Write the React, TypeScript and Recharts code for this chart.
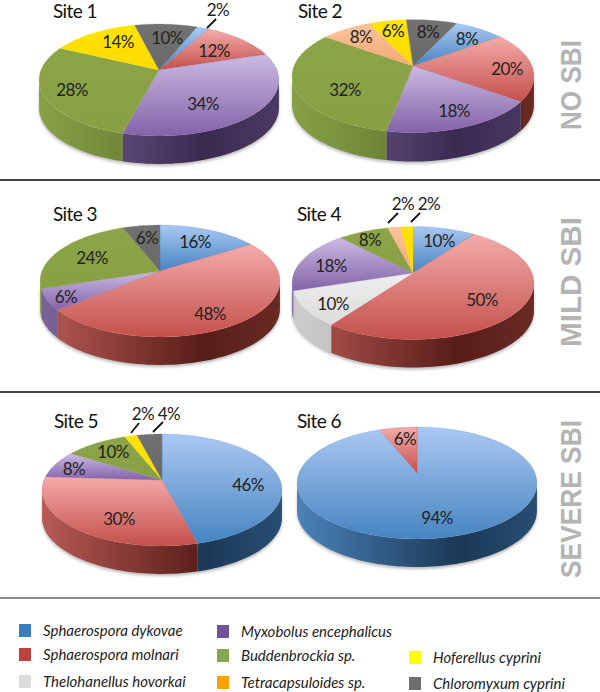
import React from "react";
import { PieChart, Pie, Legend, Customized } from "recharts";

const speciesNames = ["Sphaerospora dykovae","Sphaerospora molnari","Thelohanellus hovorkai","Myxobolus encephalicus","Buddenbrockia sp.","Tetracapsuloides sp.","Hoferellus cyprini","Chloromyxum cyprini"];
// colour key per species: top-face gradient, wall gradient, legend swatch
const topFrom = ["#abc8f2","#f3abaa","#eeeeee","#cbbae2","#8da548","#f9c39c","#ffe400","#727272"];
const topTo   = ["#4684c1","#c4504b","#dcdcdc","#8263a8","#88a044","#f6a974","#fedb00","#686868"];
const wallFrom= ["#4a82b8","#b85a55","#cecece","#7c6499","#88a146","#d08a50","#d0b400","#5a5a5a"];
const wallDark= ["#1b3857","#581d18","#a4a4a4","#3a2a50","#56702c","#a86a30","#a89000","#444444"];
const wallEnd = ["#284e74","#6a2a24","#aaaaaa","#4b3a63","#5f7830","#a86a30","#a89000","#4a4a4a"];
const swatch  = ["#3b7dbd","#bb413d","#dcdcdc","#6f5397","#85a64e","#ffa000","#ffff00","#6e6e6e"];

const site1Species = [0,1,3,4,6,7];
const site1Values  = [2,12,34,28,14,10];
const site2Species = [0,1,3,4,5,6,7];
const site2Values  = [8,20,18,32,8,6,8];
const site3Species = [0,1,3,4,7];
const site3Values  = [16,48,6,24,6];
const site4Species = [0,1,2,3,4,5,6];
const site4Values  = [10,50,10,18,8,2,2];
const site5Species = [0,1,3,4,6,7];
const site5Values  = [46,30,8,10,2,4];
const site6Species = [0,1];
const site6Values  = [94,6];

const K = 0.1786, FLAT = 0.459;

const project = (deg: number, cx: number, cy: number, A: number) => {
  const t = (deg * Math.PI) / 180;
  const u = Math.sin(t), v = -Math.cos(t), d = 1 - K * v;
  return [cx + (A * u) / d, cy + (A * FLAT * v) / d];
};

const arcPts = (a: number, b: number, cx: number, cy: number, A: number) => {
  const n = Math.max(2, Math.ceil(Math.abs(b - a) / 2));
  const out: number[][] = [];
  for (let i = 0; i <= n; i++) out.push(project(a + ((b - a) * i) / n, cx, cy, A));
  return out;
};
const fmt = (p: number[]) => p[0].toFixed(2) + " " + p[1].toFixed(2);

const makeShape = (siteId: number, depth: number, species: number[]) => (props: any) => {
  const { cx, cy, outerRadius, startAngle, endAngle, index } = props;
  const sp = species[index ?? 0];
  const t0 = 90 - startAngle, t1 = 90 - endAngle;
  const top = arcPts(t0, t1, cx, cy, outerRadius);
  const topD = "M" + cx + " " + cy + " L" + top.map(fmt).join(" L") + " Z";
  const walls: string[] = [];
  for (const off of [-360, 0, 360]) {
    const a = Math.max(t0, 100.3 + off), b = Math.min(t1, 259.7 + off);
    if (b > a) {
      const arc = arcPts(a, b, cx, cy, outerRadius);
      const low = arc.slice().reverse().map((p) => [p[0], p[1] + depth]);
      walls.push("M" + arc.map(fmt).join(" L") + " L" + low.map(fmt).join(" L") + " Z");
    }
  }
  const id = "s" + siteId + "i" + (index ?? 0);
  const halfW = outerRadius * 1.016;
  return (
    <g>
      <defs>
        <linearGradient id={id + "t"} x1="0" y1="0" x2="0" y2="1">
          <stop offset="0" stopColor={topFrom[sp]} />
          <stop offset="1" stopColor={topTo[sp]} />
        </linearGradient>
        <linearGradient id={id + "w"} gradientUnits="userSpaceOnUse" x1={cx - halfW} y1={0} x2={cx + halfW} y2={0}>
          <stop offset="0" stopColor={wallFrom[sp]} />
          <stop offset="0.68" stopColor={wallDark[sp]} />
          <stop offset="1" stopColor={wallEnd[sp]} />
        </linearGradient>
      </defs>
      {walls.map((d, i) => (
        <path key={i} d={d} fill={`url(#${id}w)`} style={{ filter: "drop-shadow(0 2px 1.5px rgba(0,0,0,0.28))" }} />
      ))}
      <path d={topD} fill={`url(#${id}t)`} stroke={topTo[sp]} strokeWidth={0.25} />
    </g>
  );
};

const FONT = "Lato, Carlito, sans-serif";

type Lbl = [number, number];
const makeLabel = (values: number[], at: Lbl[], leaders: Record<number, number[]>) => (props: any) => {
  const i = props.index;
  const l = leaders[i];
  return (
    <g key={i}>
      {l && <line x1={l[0]} y1={l[1]} x2={l[2]} y2={l[3]} stroke="#111" strokeWidth={1.8} />}
      <text x={at[i][0]} y={at[i][1]} textAnchor="middle" dominantBaseline="central" fontFamily={FONT} fontSize={17} letterSpacing={-0.6} fill="#222">
        {values[i]}%
      </text>
    </g>
  );
};

const sites = [
  { id: 1, title: "Site 1", tx: 53, ty: 10, cx: 159, cy: 70, A: 118, depth: 28, start: 22, species: site1Species, values: site1Values,
    at: [[218,9],[214,50],[203,103],[72,89],[118,41],[167,37]] as Lbl[], leaders: { 0: [207,28,216,19] } },
  { id: 2, title: "Site 2", tx: 298, ty: 10, cx: 413, cy: 66, A: 119, depth: 29, start: 25, species: site2Species, values: site2Values,
    at: [[467,38],[507,68],[454,110],[345,89],[361,36],[393,30],[428,31]] as Lbl[], leaders: {} },
  { id: 3, title: "Site 3", tx: 53, ty: 213, cx: 160, cy: 271, A: 118, depth: 28, start: 0, species: site3Species, values: site3Values,
    at: [[195,241],[210,313],[66,296],[92,257],[147,237]] as Lbl[], leaders: {} },
  { id: 4, title: "Site 4", tx: 297, ty: 213, cx: 413, cy: 273, A: 119, depth: 28, start: 0, species: site4Species, values: site4Values,
    at: [[439,240],[482,299],[333,303],[331,265],[370,239],[403,203],[429,203]] as Lbl[], leaders: { 5: [388,223,398,213], 6: [411,222,420,213] } },
  { id: 5, title: "Site 5", tx: 54, ty: 420, cx: 162, cy: 480, A: 118, depth: 28, start: 0, species: site5Species, values: site5Values,
    at: [[248,484],[119,518],[74,468],[113,451],[143,413],[169,413]] as Lbl[], leaders: { 4: [131,433,139,423], 5: [153,432,163,422] } },
  { id: 6, title: "Site 6", tx: 297, ty: 420, cx: 417, cy: 473, A: 118, depth: 28, start: 0, species: site6Species, values: site6Values,
    at: [[437,517],[405,438]] as Lbl[], leaders: {} },
];

const separators = [
  { y: 180, color: "#444444" },
  { y: 392, color: "#444444" },
  { y: 598, color: "#8a8a8a" },
];
const sideLabels = [
  { text: "NO SBI", x: 571, y: 85, len: 90 },
  { text: "MILD SBI", x: 571, y: 282, len: 130 },
  { text: "SEVERE SBI", x: 571, y: 499, len: 158 },
];
const legendSlots = [
  { sp: 0, x: 19, y: 630 }, { sp: 1, x: 19, y: 654 }, { sp: 2, x: 19, y: 681 },
  { sp: 3, x: 217, y: 631 }, { sp: 4, x: 217, y: 655 }, { sp: 5, x: 217, y: 682 },
  { sp: 6, x: 409, y: 657 }, { sp: 7, x: 409, y: 683 },
];

const Overlay = () => (
  <g>
    {separators.map((s) => (
      <line key={s.y} x1={0} x2={600} y1={s.y} y2={s.y} stroke={s.color} strokeWidth={2} />
    ))}
    {sites.map((s) => (
      <text key={s.id} x={s.tx} y={s.ty} dominantBaseline="central" fontFamily={FONT} fontSize={19} letterSpacing={-0.6} fill="#111">
        {s.title}
      </text>
    ))}
    {sideLabels.map((s) => (
      <text key={s.text} x={s.x} y={s.y} transform={`rotate(-90 ${s.x} ${s.y})`} textAnchor="middle" dominantBaseline="central"
        textLength={s.len} lengthAdjust="spacingAndGlyphs"
        fontFamily="Liberation Sans, Arial, sans-serif" fontWeight="bold" fontSize={29} fill="#b4b4b4">
        {s.text}
      </text>
    ))}
  </g>
);

const LegendBox = () => (
  <div style={{ position: "absolute", left: 0, top: 0, width: 600, height: 692, pointerEvents: "none" }}>
    {legendSlots.map((l) => (
      <React.Fragment key={l.sp}>
        <div style={{ position: "absolute", left: l.x, top: l.y - 6, width: 12, height: 13, background: swatch[l.sp] }} />
        <div style={{ position: "absolute", left: l.x + 24, top: l.y - 10, height: 20, lineHeight: "20px", whiteSpace: "nowrap", fontFamily: FONT, fontStyle: "italic", fontSize: 15, color: "#222" }}>
          {speciesNames[l.sp]}
        </div>
      </React.Fragment>
    ))}
  </div>
);

export default function App() {
  return (
    <div style={{ position: "absolute", left: 0, top: 0, width: 600, height: 692, background: "#fff" }}>
      <PieChart width={600} height={692} margin={{ top: 0, right: 0, bottom: 0, left: 0 }}>
        <Customized component={Overlay} />
        {sites.map((s) => (
          <Pie
            key={s.id}
            data={s.values.map((value, i) => ({ name: speciesNames[s.species[i]], value }))}
            dataKey="value"
            nameKey="name"
            cx={s.cx}
            cy={s.cy}
            innerRadius={0}
            outerRadius={s.A}
            startAngle={90 - s.start}
            endAngle={90 - s.start - 360}
            stroke="none"
            isAnimationActive={false}
            shape={makeShape(s.id, s.depth, s.species)}
            label={makeLabel(s.values, s.at, s.leaders)}
            labelLine={false}
          />
        ))}
        <Legend content={() => <LegendBox />} wrapperStyle={{ position: "absolute", left: 0, top: 0, width: 600, height: 0 }} />
      </PieChart>
    </div>
  );
}
